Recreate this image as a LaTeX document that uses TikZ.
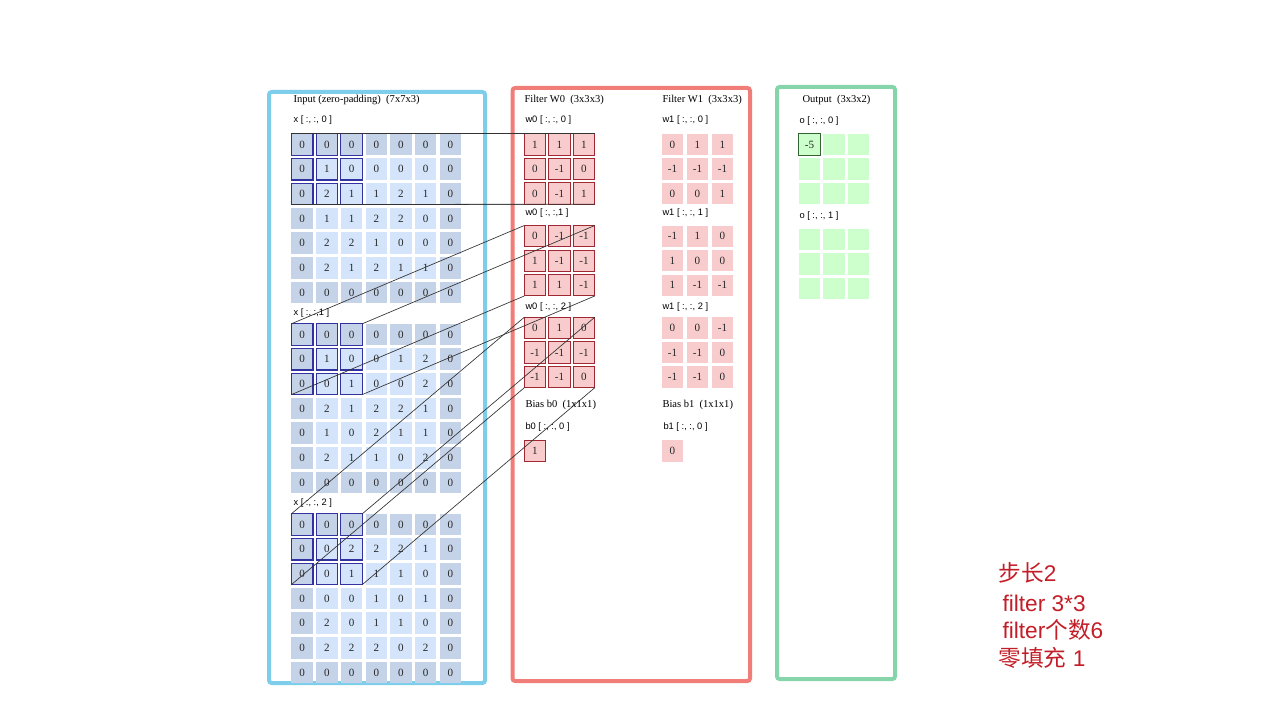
\documentclass[tikz,border=0pt]{standalone}
\usepackage{fontspec}
\setmainfont{Liberation Serif}
\setsansfont{Liberation Sans}
\newfontfamily\cjkfont{Noto Sans CJK SC}

\definecolor{inputframe}{RGB}{125,205,235}
\definecolor{filterframe}{RGB}{240,125,120}
\definecolor{outputframe}{RGB}{133,212,170}
\definecolor{padblue}{RGB}{197,211,232}
\definecolor{inblue}{RGB}{212,228,250}
\definecolor{selblue}{RGB}{50,50,160}
\definecolor{wpink}{RGB}{248,204,204}
\definecolor{wborder}{RGB}{160,40,50}
\definecolor{ogreen}{RGB}{204,255,204}
\definecolor{oborder}{RGB}{50,100,50}
\definecolor{notered}{RGB}{195,30,40}

\tikzset{every picture/.style={line width=0.75pt}}
\tikzset{
  frame/.style={line width=3pt, rounded corners=2pt},
  cell/.style={minimum size=16.1pt, inner sep=0pt, outer sep=0pt, text=black!85, font=\fontsize{8.3}{9}\selectfont},
  wcell/.style={cell, fill=wpink, draw=wborder, line width=0.75pt},
  w1cell/.style={cell, fill=wpink},
  ocell/.style={cell, fill=ogreen},
  title/.style={anchor=west, inner sep=0pt, font=\fontsize{7.9}{9}\selectfont},
  slicelabel/.style={anchor=west, inner sep=0pt, font=\sffamily\fontsize{7}{8}\selectfont},
  projline/.style={line width=0.5pt, black!80},
  note/.style={anchor=base west, inner sep=0pt, text=notered, font=\sffamily\fontsize{17}{20}\selectfont},
}

\begin{document}
\begin{tikzpicture}[x=0.75pt,y=0.75pt,yscale=-1,xscale=1]
	\useasboundingbox (0,0) rectangle (1280,720);

	%Shape: Rectangle [input frame]
	\draw [frame, draw=inputframe] (269,92) rectangle (485,683) ;
	%Shape: Rectangle [filter frame]
	\draw [frame, draw=filterframe] (512.5,88) rectangle (750,681) ;
	%Shape: Rectangle [output frame]
	\draw [frame, draw=outputframe] (777,87) rectangle (895,679) ;

	%Input cells x[:,:,0..2]
	\foreach \rowvals [count=\i from 0] in {
	    {0,0,0,0,0,0,0},{0,1,0,0,0,0,0},{0,2,1,1,2,1,0},{0,1,1,2,2,0,0},{0,2,2,1,0,0,0},{0,2,1,2,1,1,0},{0,0,0,0,0,0,0},
	    {0,0,0,0,0,0,0},{0,1,0,0,1,2,0},{0,0,1,0,0,2,0},{0,2,1,2,2,1,0},{0,1,0,2,1,1,0},{0,2,1,1,0,2,0},{0,0,0,0,0,0,0},
	    {0,0,0,0,0,0,0},{0,0,2,2,2,1,0},{0,0,1,1,1,0,0},{0,0,0,1,0,1,0},{0,2,0,1,1,0,0},{0,2,2,2,0,2,0},{0,0,0,0,0,0,0}}
	  \foreach \v [count=\c from 0] in \rowvals {
	    \pgfmathtruncatemacro\k{int(\i/7)}
	    \pgfmathtruncatemacro\r{\i-7*\k}
	    \pgfmathtruncatemacro\pad{(\r==0 || \r==6 || \c==0 || \c==6) ? 1 : 0}
	    \pgfmathtruncatemacro\sel{(\r<3 && \c<3) ? 1 : 0}
	    \ifnum\pad=1 \def\cfill{padblue}\else\def\cfill{inblue}\fi
	    \ifnum\sel=1 \def\cdraw{selblue}\else\def\cdraw{none}\fi
	    \node [cell, fill=\cfill, draw=\cdraw, line width=0.9pt] (x\k-\r-\c) at ({302.2+24.7*\c},{144.5+190*\k+24.67*\r}) {\v};
	  }

	%Filter W0 cells
	\foreach \rowvals [count=\i from 0] in {
	    {1,1,1},{0,-1,0},{0,-1,1},
	    {0,-1,-1},{1,-1,-1},{1,1,-1},
	    {0,1,0},{-1,-1,-1},{-1,-1,0}}
	  \foreach \v [count=\c from 0] in \rowvals {
	    \pgfmathtruncatemacro\k{int(\i/3)}
	    \pgfmathtruncatemacro\r{\i-3*\k}
	    \node [wcell] (w0-\k-\r-\c) at ({535+24.5*\c},{144.5+91.75*\k+24.5*\r}) {\v};
	  }

	%Filter W1 cells
	\foreach \rowvals [count=\i from 0] in {
	    {0,1,1},{-1,-1,-1},{0,0,1},
	    {-1,1,0},{1,0,0},{1,-1,-1},
	    {0,0,-1},{-1,-1,0},{-1,-1,0}}
	  \foreach \v [count=\c from 0] in \rowvals {
	    \pgfmathtruncatemacro\k{int(\i/3)}
	    \pgfmathtruncatemacro\r{\i-3*\k}
	    \node [w1cell] (w1-\k-\r-\c) at ({672.5+25*\c},{144.5+91.75*\k+24.5*\r}) {\v};
	  }

	%Bias cells
	\node [wcell] (b0) at (535,451) {1};
	\node [w1cell] (b1) at (672.5,451) {0};

	%Output cells
	\foreach \k in {0,1}
	  \foreach \r in {0,1,2}
	    \foreach \c in {0,1,2} {
	      \pgfmathtruncatemacro\first{(\k==0 && \r==0 && \c==0) ? 1 : 0}
	      \ifnum\first=1
	        \node [ocell, draw=oborder] (o\k-\r-\c) at ({809.5+24.5*\c},{144.5+95*\k+24.5*\r}) {-5};
	      \else
	        \node [ocell] (o\k-\r-\c) at ({809.5+24.5*\c},{144.5+95*\k+24.5*\r}) {};
	      \fi
	    }

	%Straight Lines [window to filter slice]
	\foreach \k in {0,1,2} {
	  \draw [projline] (x\k-0-0.north west) -- (w0-\k-0-0.north west) ;
	  \draw [projline] (x\k-0-2.north east) -- (w0-\k-0-2.north east) ;
	  \draw [projline] (x\k-2-0.south west) -- (w0-\k-2-0.south west) ;
	  \draw [projline] (x\k-2-2.south east) -- (w0-\k-2-2.south east) ;
	}

	% Text Node
	\node [title] (intitle) at (293,100) {Input (zero-padding)~ (7x7x3)};
	% Text Node
	\node [slicelabel] (xlab0) at (293,120) {x [ :, :, 0 ]};
	% Text Node
	\node [slicelabel] (xlab1) at (293,313) {x [ :, :,1 ]};
	% Text Node
	\node [slicelabel] (xlab2) at (293,503) {x [ :, :, 2 ]};
	% Text Node
	\node [title] (w0title) at (524,100) {Filter W0~ (3x3x3)};
	% Text Node
	\node [title] (w1title) at (662,100) {Filter W1~ (3x3x3)};
	% Text Node
	\node [slicelabel] (w0lab0) at (525,120) {w0 [ :, :, 0 ]};
	% Text Node
	\node [slicelabel] (w0lab1) at (525,213) {w0 [ :, :,1 ]};
	% Text Node
	\node [slicelabel] (w0lab2) at (525,307) {w0 [ :, :, 2 ]};
	% Text Node
	\node [slicelabel] (w1lab0) at (662,120) {w1 [ :, :, 0 ]};
	% Text Node
	\node [slicelabel] (w1lab1) at (662,213) {w1 [ :, :, 1 ]};
	% Text Node
	\node [slicelabel] (w1lab2) at (662,307) {w1 [ :, :, 2 ]};
	% Text Node
	\node [title] (b0title) at (525,405) {Bias b0~ (1x1x1)};
	% Text Node
	\node [title] (b1title) at (662,405) {Bias b1~ (1x1x1)};
	% Text Node
	\node [slicelabel] (b0lab) at (525,427) {b0 [ :, :, 0 ]};
	% Text Node
	\node [slicelabel] (b1lab) at (663,427) {b1 [ :, :, 0 ]};
	% Text Node
	\node [title] (outtitle) at (802,100) {Output~ (3x3x2)};
	% Text Node
	\node [slicelabel] (olab0) at (799,121) {o [ :, :, 0 ]};
	% Text Node
	\node [slicelabel] (olab1) at (799,216) {o [ :, :, 1 ]};

	% Text Node
	\node [note] (note1) at (998,581) {{\cjkfont 步长}2};
	% Text Node
	\node [note] (note2) at (1002,611) {filter 3*3};
	% Text Node
	\node [note] (note3) at (1002,638) {filter{\cjkfont 个数}6};
	% Text Node
	\node [note] (note4) at (998,666) {{\cjkfont 零填充} 1};

\end{tikzpicture}
\end{document}
